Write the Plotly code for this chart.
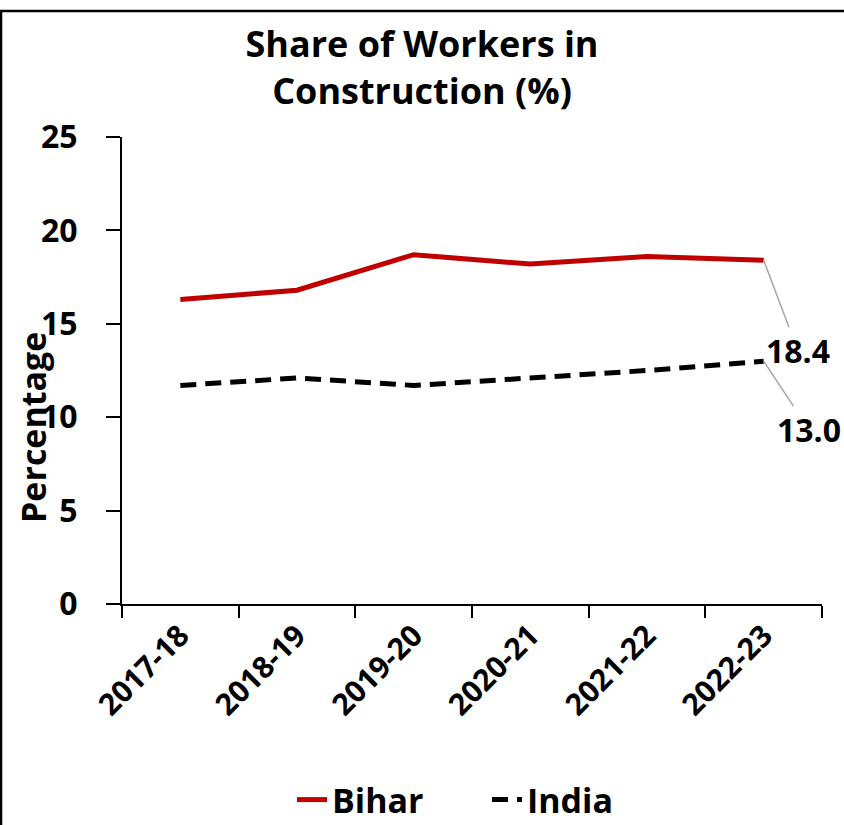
import plotly.graph_objects as go

years = ["2017-18", "2018-19", "2019-20", "2020-21", "2021-22", "2022-23"]
bihar = [16.3, 16.8, 18.7, 18.2, 18.6, 18.4]
india = [11.7, 12.1, 11.7, 12.1, 12.5, 13.0]

FONT = "Open Sans"
L, R, T, B = 122, 22, 137, 221
W, H = 844, 825
pw, ph = W - L - R, H - T - B

def px_x(p):
    return (p - L) / pw

def px_y(p):
    return (H - B - p) / ph

fig = go.Figure()
fig.add_trace(go.Scatter(x=years, y=bihar, name="Bihar", mode="lines",
                         line=dict(color="#C00000", width=5)))
fig.add_trace(go.Scatter(x=years, y=india, name="India", mode="lines",
                         line=dict(color="#000000", width=5, dash="16px,9px")))

fig.add_annotation(x=years[-1], y=bihar[-1], text=f"{bihar[-1]:.1f}", showarrow=True,
                   arrowhead=0, arrowwidth=1.5, arrowcolor="#A6A6A6", ax=34, ay=90,
                   font=dict(family=FONT, size=32, color="black", weight="bold"))
fig.add_annotation(x=years[-1], y=india[-1], text=f"{india[-1]:.1f}", showarrow=True,
                   arrowhead=0, arrowwidth=1.5, arrowcolor="#A6A6A6", ax=45, ay=68,
                   font=dict(family=FONT, size=32, color="black", weight="bold"))

fig.add_annotation(xref="paper", yref="paper", x=px_x(33), y=px_y(428), text="Percentage",
                   textangle=-90, showarrow=False, xanchor="center", yanchor="middle",
                   font=dict(family=FONT, size=34, color="black", weight="bold"))

fig.add_shape(type="rect", xref="paper", yref="paper", x0=px_x(1), x1=px_x(900),
              y0=px_y(900), y1=px_y(11), line=dict(color="black", width=2.5))

fig.update_layout(
    width=W, height=H,
    margin=dict(l=L, r=R, t=T, b=B, autoexpand=False),
    paper_bgcolor="white", plot_bgcolor="white",
    title=dict(text="Share of Workers in<br>Construction (%)", x=0.5, xanchor="center",
               y=(H - 57) / H, yanchor="middle",
               font=dict(family=FONT, size=36, color="black", weight="bold")),
    showlegend=True,
    legend=dict(orientation="h", x=px_x(292), xanchor="left", y=px_y(800), yanchor="middle",
                font=dict(family=FONT, size=34, color="black", weight="bold"),
                entrywidth=150, itemwidth=30),
    xaxis=dict(type="category", range=[-0.5, 5.5], tickson="boundaries", ticks="outside",
               ticklen=12, tickwidth=2, tickcolor="black", showline=True, linecolor="black",
               linewidth=2, showgrid=False, tickangle=-45, automargin=False,
               tickfont=dict(family=FONT, size=30, color="black", weight="bold")),
    yaxis=dict(range=[0, 25], dtick=5, ticks="outside", ticklen=14, tickwidth=2,
               tickcolor="black", showline=True, linecolor="black", linewidth=2,
               showgrid=False, zeroline=False, ticklabelstandoff=22, automargin=False,
               tickfont=dict(family=FONT, size=32, color="black", weight="bold")),
)

fig.write_html("out.html", config={"displayModeBar": False},
               post_script="document.body.style.margin='0';document.body.style.overflow='hidden';")
